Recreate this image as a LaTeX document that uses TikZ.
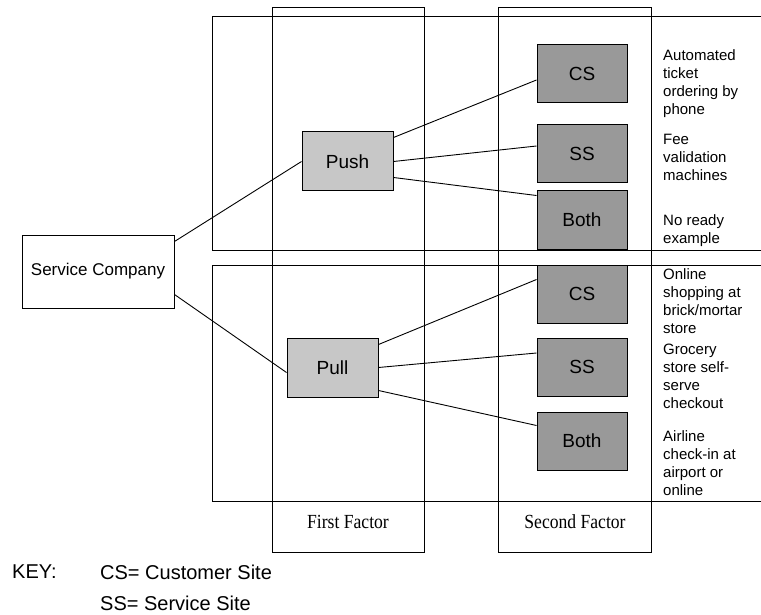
\documentclass[tikz,border=0pt]{standalone}
\usepackage{fontspec}
\setmainfont{Liberation Sans}
\newfontfamily\factorfont{Liberation Serif}
\usetikzlibrary{calc}

\tikzset{
  frame/.style={draw=black, line width=0.9pt},
  link/.style={draw=black, line width=0.9pt},
  factorbox/.style={draw=black, line width=1pt, fill=black!22,
    minimum width=91pt, minimum height=59pt, inner sep=0pt,
    font=\fontsize{19}{22}\selectfont},
  sitebox/.style={draw=black, line width=1pt, fill=black!40,
    minimum width=90pt, minimum height=58pt, inner sep=0pt,
    font=\fontsize{19}{22}\selectfont},
  companybox/.style={draw=black, line width=1pt, fill=white,
    minimum width=152pt, minimum height=73pt, inner sep=0pt,
    font=\fontsize{17}{20}\selectfont},
  example/.style={anchor=west, align=left, inner sep=0pt,
    font=\fontsize{15}{18}\selectfont},
  factorlabel/.style={inner sep=0pt, font=\factorfont\fontsize{20}{22}\selectfont,
    xscale=0.88},
  keytext/.style={anchor=west, inner sep=0pt, font=\fontsize{20}{24}\selectfont}
}

\begin{document}
\begin{tikzpicture}[x=1pt, y=-1pt]
  \useasboundingbox[fill=white] (0,0) rectangle (761,615);

  % the two bands, open to the right
  \draw[frame] (762,16) -- (212,16) -- (212,250) -- (762,250);
  \draw[frame] (762,265) -- (212,265) -- (212,501) -- (762,501);

  % factor columns
  \draw[frame] (272,7) rectangle (424,552);
  \draw[frame] (498,7) rectangle (651,552);

  \node[factorlabel] (first) at (348,522) {First Factor};
  \node[factorlabel] (second) at (575,522) {Second Factor};

  % boxes
  \node[companybox] (sc) at (98,271.5) {Service Company};
  \node[factorbox] (push) at (347.5,161.5) {Push};
  \node[factorbox] (pull) at (332.5,367.5) {Pull};

  \node[sitebox] (cs1) at (582,73.5) {CS};
  \node[sitebox] (ss1) at (582,154) {SS};
  \node[sitebox] (both1) at (582,220) {Both};
  \node[sitebox] (cs2) at (582,294) {CS};
  \node[sitebox] (ss2) at (582,367) {SS};
  \node[sitebox] (both2) at (582,441) {Both};

  % connectors
  \draw[link] ([yshift=-7pt]sc.north east) -- (push.west);
  \draw[link] ([yshift=14pt]sc.south east) -- ([yshift=-5pt]pull.west);

  \draw[link] ([yshift=-6pt]push.north east) -- ([yshift=-6.5pt]cs1.west);
  \draw[link] (push.east) -- ([yshift=8pt]ss1.west);
  \draw[link] ([yshift=14pt]push.south east) -- ([yshift=-5pt]both1.north west);

  \draw[link] ([yshift=-7pt]pull.north east) -- ([yshift=-15pt]cs2.north west);
  \draw[link] (pull.east) -- ([yshift=14pt]ss2.west);
  \draw[link] ([yshift=7pt]pull.south east) -- ([yshift=-14pt]both2.north west);

  % examples
  \node[example] (ex1) at (663,84) {Automated\\ticket\\ordering by\\phone};
  \node[example] (ex2) at (663,157) {Fee\\validation\\machines};
  \node[example] (ex3) at (663,231) {No ready\\example};
  \node[example] (ex4) at (663,301) {Online\\shopping at\\brick/mortar\\store};
  \node[example] (ex5) at (663,376) {Grocery\\store self-\\serve\\checkout};
  \node[example] (ex6) at (663,463) {Airline\\check-in at\\airport or\\online};

  % key
  \node[keytext] (key) at (12,572) {KEY:};
  \node[keytext] (keycs) at (100,572) {CS= Customer Site};
  \node[keytext] (keyss) at (100,603) {SS= Service Site};
\end{tikzpicture}
\end{document}
